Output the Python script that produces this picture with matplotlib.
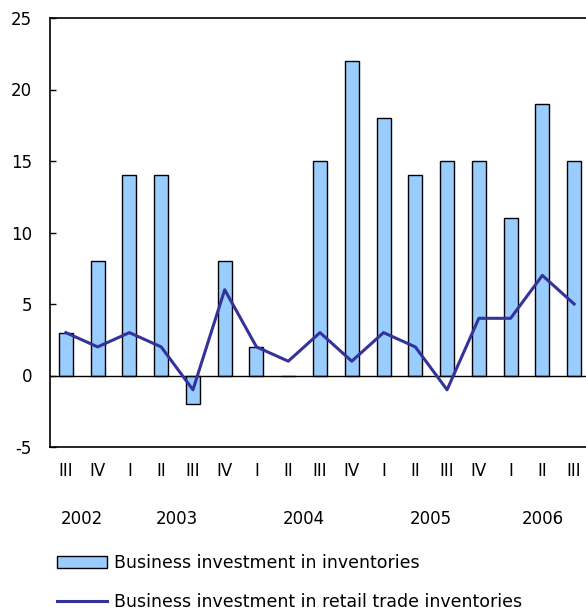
import matplotlib
matplotlib.use("Agg")
import matplotlib.pyplot as plt
from matplotlib.patches import Patch
from matplotlib.lines import Line2D

quarters = ["III", "IV", "I", "II", "III", "IV", "I", "II", "III", "IV",
            "I", "II", "III", "IV", "I", "II", "III"]
years = ["2002", "2003", "2004", "2005", "2006"]
year_pos = [0.5, 3.5, 7.5, 11.5, 15.0]
inventories = [3, 8, 14, 14, -2, 8, 2, 0, 15, 22, 18, 14, 15, 15, 11, 19, 15]
retail = [3, 2, 3, 2, -1, 6, 2, 1, 3, 1, 3, 2, -1, 4, 4, 7, 5]

plt.rcParams['font.family'] = ['DejaVu Sans']
plt.rcParams['axes.unicode_minus'] = False
fig = plt.figure(figsize=(5.86, 6.16), dpi=100)
W, H = 586, 616
left, right, top, bottom = 50, 590, 18, 447
ax = fig.add_axes([left / W, 1 - bottom / H, (right - left) / W, (bottom - top) / H])

x = list(range(len(quarters)))
ax.bar(x, inventories, width=0.44, color="#99CCFF", edgecolor="black", linewidth=1.0, zorder=2)
ax.axhline(0, color="black", linewidth=1.0, zorder=3)
ax.plot(x, retail, color="#333399", linewidth=2.2, zorder=4)

ax.set_xlim(-0.5, len(quarters) - 0.5)
ax.set_ylim(-5, 25)
ax.set_yticks([-5, 0, 5, 10, 15, 20, 25])
ax.tick_params(axis="y", direction="in", length=4, labelsize=12, pad=13, width=1)
ax.set_xticks(x)
ax.set_xticklabels(quarters)
ax.tick_params(axis="x", length=0, labelsize=12, pad=11)
for s in ax.spines.values():
    s.set_linewidth(1.2)

for yr, p in zip(years, year_pos):
    ax.text(p, -0.168, yr, transform=ax.get_xaxis_transform(), ha="center", va="center", fontsize=12)

handles = [Patch(facecolor="#99CCFF", edgecolor="black", linewidth=1.0),
           Line2D([0], [0], color="#333399", linewidth=2.2)]
labels = ["Business investment in inventories",
          "Business investment in retail trade inventories"]
fig.legend(handles, labels, loc="upper left", bbox_to_anchor=(57 / W, 1 - 554 / H),
           frameon=False, fontsize=12.5, handlelength=2.9, handleheight=0.75,
           labelspacing=1.2, handletextpad=0.4, borderaxespad=0, borderpad=0)

fig.savefig("out.png", dpi=100)
